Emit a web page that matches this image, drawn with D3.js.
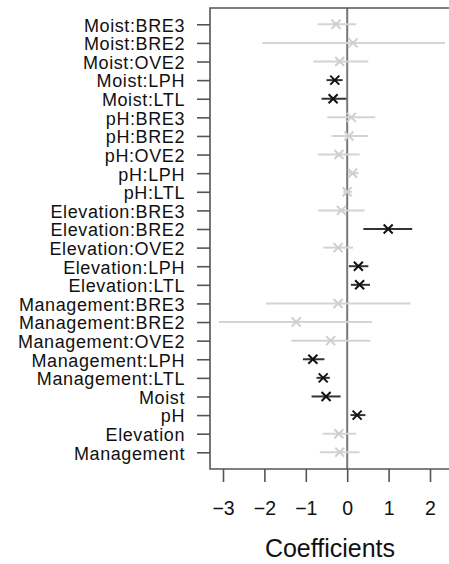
<!DOCTYPE html>
<html>
<head>
<meta charset="utf-8">
<script src="https://cdn.jsdelivr.net/npm/d3@7.9.0/dist/d3.min.js"></script>
<style>
  html, body { margin: 0; padding: 0; background: #fff; }
  svg { display: block; font-family: 'Liberation Sans', Arial, sans-serif; }
</style>
</head>
<body>
<svg id="chart" width="449" height="564"></svg>
<script>
// top to bottom
const terms = [
  'Moist:BRE3', 'Moist:BRE2', 'Moist:OVE2', 'Moist:LPH', 'Moist:LTL',
  'pH:BRE3', 'pH:BRE2', 'pH:OVE2', 'pH:LPH', 'pH:LTL',
  'Elevation:BRE3', 'Elevation:BRE2', 'Elevation:OVE2', 'Elevation:LPH', 'Elevation:LTL',
  'Management:BRE3', 'Management:BRE2', 'Management:OVE2', 'Management:LPH', 'Management:LTL',
  'Moist', 'pH', 'Elevation', 'Management'
];
const estimate = [
  -0.27, 0.14, -0.18, -0.30, -0.34,
  0.10, 0.04, -0.20, 0.13, 0.00,
  -0.14, 0.99, -0.22, 0.27, 0.30,
  -0.22, -1.23, -0.40, -0.83, -0.58,
  -0.51, 0.24, -0.20, -0.18
];
const lower = [
  -0.71, -2.05, -0.82, -0.50, -0.62,
  -0.48, -0.38, -0.71, 0.02, -0.10,
  -0.70, 0.39, -0.58, 0.04, 0.09,
  -1.96, -3.10, -1.35, -1.07, -0.74,
  -0.86, 0.08, -0.59, -0.66
];
const upper = [
  0.22, 2.36, 0.51, -0.11, -0.02,
  0.68, 0.50, 0.30, 0.28, 0.12,
  0.42, 1.57, 0.14, 0.51, 0.55,
  1.53, 0.60, 0.56, -0.55, -0.42,
  -0.16, 0.44, 0.22, 0.30
];
// significant terms drawn in black, the rest in light grey
const significant = [
  false, false, false, true, true,
  false, false, false, false, false,
  false, true, false, true, true,
  false, false, false, true, true,
  true, true, false, false
];
const xTicks = [-3, -2, -1, 0, 1, 2];

const rows = terms.map((t, i) => ({
  term: t, est: estimate[i], lo: lower[i], hi: upper[i], sig: significant[i]
}));

const svg = d3.select('#chart');
const frame = { left: 210, top: 8, bottom: 469, right: 460 };

const x = d3.scaleLinear().domain([-3, 2]).range([223, 430]);
const y = d3.scalePoint().domain(terms).range([24.3, 452.3]);

const axisCol = '#555';

// intervals and markers (grey first so black sits on top)
const order = d3.sort(rows, d => d.sig ? 1 : 0);
const marks = svg.append('g');

marks.selectAll('line.ci')
  .data(order)
  .join('line')
  .attr('class', 'ci')
  .attr('x1', d => x(d.lo))
  .attr('x2', d => x(d.hi))
  .attr('y1', d => y(d.term))
  .attr('y2', d => y(d.term))
  .attr('stroke', d => d.sig ? '#333' : '#d4d4d4')
  .attr('stroke-width', 2);

// zero reference line
svg.append('line')
  .attr('x1', x(0)).attr('x2', x(0))
  .attr('y1', frame.top).attr('y2', frame.bottom)
  .attr('stroke', '#777')
  .attr('stroke-width', 2);

const s = 4.5;
marks.selectAll('path.pt')
  .data(order)
  .join('path')
  .attr('class', 'pt')
  .attr('d', d => {
    const cx = x(d.est), cy = y(d.term);
    return `M${cx - s},${cy - s}L${cx + s},${cy + s}M${cx - s},${cy + s}L${cx + s},${cy - s}`;
  })
  .attr('stroke', d => d.sig ? '#111' : '#cfcfcf')
  .attr('stroke-width', 2)
  .attr('fill', 'none');
marks.raise();

// frame: left, top, bottom (right side is cut off)
svg.append('path')
  .attr('d', `M${frame.right},${frame.top}H${frame.left}V${frame.bottom}H${frame.right}`)
  .attr('fill', 'none')
  .attr('stroke', axisCol)
  .attr('stroke-width', 1.6);

// y axis
const yAxis = svg.append('g')
  .attr('transform', `translate(${frame.left},0)`)
  .call(d3.axisLeft(y).tickSize(13).tickPadding(12));
yAxis.select('.domain').remove();
yAxis.selectAll('line').attr('stroke', axisCol).attr('stroke-width', 1.6);
yAxis.selectAll('text')
  .attr('fill', '#111')
  .attr('font-size', 18)
  .attr('letter-spacing', 0.6)
  .attr('font-family', "'Liberation Sans', Arial, sans-serif")
  .attr('dy', '0.38em');

// x axis
const xAxis = svg.append('g')
  .attr('transform', `translate(0,${frame.bottom})`)
  .call(d3.axisBottom(x).tickValues(xTicks).tickSize(13).tickPadding(19)
    .tickFormat(d => d < 0 ? '\u2212' + Math.abs(d) : String(d)));
xAxis.select('.domain').remove();
xAxis.selectAll('line').attr('stroke', axisCol).attr('stroke-width', 1.6);
xAxis.selectAll('text')
  .attr('fill', '#111')
  .attr('font-size', 19.5)
  .attr('font-family', "'Liberation Sans', Arial, sans-serif");

svg.append('text')
  .attr('x', 330)
  .attr('y', 557)
  .attr('text-anchor', 'middle')
  .attr('font-size', 25)
  .attr('fill', '#111')
  .text('Coefficients');
</script>
</body>
</html>
